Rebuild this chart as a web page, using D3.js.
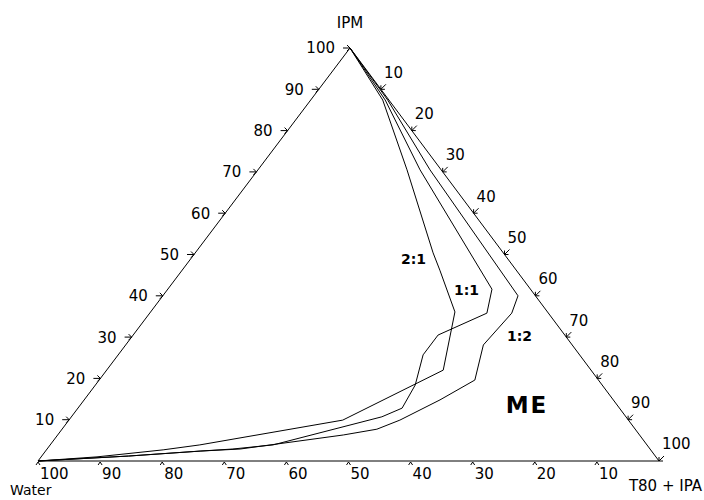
<!DOCTYPE html>
<html>
<head>
<meta charset="utf-8">
<script src="https://cdn.jsdelivr.net/npm/d3@7"></script>
<style>
  body { margin: 0; background: #fff; }
  text { font-family: "DejaVu Sans", sans-serif; fill: #000; }
</style>
</head>
<body>
<div id="chart"></div>
<script>
var width = 704;
var height = 500;

// ternary points: [IPM, T80+IPA, Water] in %
var curve21 = [[100,0,0],[87.4,11.6,1.0],[70.5,24.0,5.5],[50.4,38.3,11.3],[46.2,41.5,12.3],
  [36.1,49.0,14.9],[22.0,54.2,23.8],[9.9,44.1,46.0],[3.9,24.1,72.0],[2.7,18.8,78.5],[1.0,9.0,90.0],[0,0,100]];
var curve11 = [[100,0,0],[87.4,12.0,0.6],[70.5,26.1,3.4],[41.6,52.2,6.2],[35.8,54.3,9.9],
  [30.5,49.1,20.4],[25.7,49.1,25.2],[18.4,51.5,30.1],[12.8,52.2,35.0],[10.7,50.0,39.3],
  [3.9,35.9,60.2],[2.9,29.9,67.2],[2.4,24.9,72.7],[1.2,14.0,84.8],[0,0,100]];
var curve12 = [[100,0,0],[87.4,12.4,0.2],[70.5,27.7,1.8],[40.0,57.2,2.8],[35.8,58.3,5.9],
  [28.1,57.6,14.3],[19.6,60.5,19.9],[14.8,57.3,27.9],[9.9,53.3,36.8],[7.7,50.7,41.6],
  [6.3,46.0,47.7],[2.9,31.1,66.0],[2.4,24.9,72.7],[1.2,14.0,84.8],[0,0,100]];

var curveNames = ['2:1', '1:1', '1:2'];
var ticks = [10, 20, 30, 40, 50, 60, 70, 80, 90, 100];

// triangle corners on screen
var BL = [38, 461], TOP = [350, 48], BR = [659, 461];

var ipmX = d3.scaleLinear().domain([0, 100]).range([0, TOP[0] - BL[0]]);
var ipmY = d3.scaleLinear().domain([0, 100]).range([0, TOP[1] - BL[1]]);
var smX = d3.scaleLinear().domain([0, 100]).range([0, BR[0] - BL[0]]);

function proj(ipm, sm) {
  return [BL[0] + ipmX(ipm) + smX(sm), BL[1] + ipmY(ipm)];
}

var svg = d3.select('#chart')
    .append('svg')
    .attr('width', width)
    .attr('height', height);

var line = d3.line()
    .x(function(d){ return proj(d[0], d[1])[0]; })
    .y(function(d){ return proj(d[0], d[1])[1]; });

// triangle frame
svg.append('path')
    .attr('d', line([[100,0],[0,100],[0,0],[100,0]]))
    .attr('fill', 'none')
    .attr('stroke', '#000')
    .attr('stroke-width', 1);

// phase boundary curves
svg.selectAll('path.curve')
    .data([curve21, curve11, curve12])
    .enter()
    .append('path')
    .attr('class', 'curve')
    .attr('d', line)
    .attr('fill', 'none')
    .attr('stroke', '#000')
    .attr('stroke-width', 1)
    .attr('stroke-linejoin', 'round');

var tickG = svg.append('g')
    .attr('fill', 'none')
    .attr('stroke', '#000')
    .attr('stroke-width', 1);

// left axis (IPM) ticks: arrows pointing right
ticks.forEach(function(v){
  var p = proj(v, 0);
  tickG.append('path')
    .attr('d', 'M' + (p[0]-7) + ',' + p[1] + 'L' + p[0] + ',' + p[1] +
               'M' + (p[0]-3) + ',' + (p[1]-3) + 'L' + p[0] + ',' + p[1] + 'L' + (p[0]-3) + ',' + (p[1]+3));
  svg.append('text')
    .attr('x', p[0] - 15).attr('y', p[1])
    .attr('dy', '0.36em')
    .attr('text-anchor', 'end')
    .style('font-size', '15px')
    .text(v);
});

// right axis (T80 + IPA) ticks
ticks.forEach(function(v){
  var p = proj(100 - v, v);
  tickG.append('path')
    .attr('d', 'M' + (p[0]+5) + ',' + (p[1]-5) + 'L' + p[0] + ',' + p[1] +
               'M' + p[0] + ',' + (p[1]-4) + 'L' + p[0] + ',' + p[1] + 'L' + (p[0]+4) + ',' + p[1]);
  svg.append('text')
    .attr('x', p[0] + 3).attr('y', p[1] - 17)
    .attr('dy', '0.36em')
    .style('font-size', '15px')
    .text(v);
});

// bottom axis (Water) ticks
ticks.forEach(function(v){
  var p = proj(0, 100 - v);
  tickG.append('path')
    .attr('d', 'M' + (p[0]-2) + ',' + (p[1]+4) + 'L' + p[0] + ',' + (p[1]+1) + 'L' + (p[0]+2) + ',' + (p[1]+4));
  svg.append('text')
    .attr('x', p[0] + 2).attr('y', 474)
    .attr('dy', '0.36em')
    .style('font-size', '15px')
    .text(v);
});

// axis titles
svg.append('text').attr('x', 350).attr('y', 23).attr('dy', '0.36em')
    .attr('text-anchor', 'middle').style('font-size', '15px').text('IPM');
svg.append('text').attr('x', 10).attr('y', 490).attr('dy', '0.36em')
    .style('font-size', '14px').text('Water');
svg.append('text').attr('x', 702).attr('y', 486).attr('dy', '0.36em')
    .attr('text-anchor', 'end').style('font-size', '15px').text('T80 + IPA');

// curve labels
var labelPos = [[401, 259], [454, 290], [507, 336]];
svg.selectAll('text.clabel')
    .data(curveNames)
    .enter()
    .append('text')
    .attr('class', 'clabel')
    .attr('x', function(d, i){ return labelPos[i][0]; })
    .attr('y', function(d, i){ return labelPos[i][1]; })
    .attr('dy', '0.36em')
    .style('font-size', '14px')
    .style('font-weight', 'bold')
    .text(function(d){ return d; });

svg.append('text')
    .attr('x', 527).attr('y', 405).attr('dy', '0.36em')
    .attr('text-anchor', 'middle')
    .style('font-size', '23px')
    .style('font-weight', 'bold')
    .style('letter-spacing', '2px')
    .text('ME');
</script>
</body>
</html>
